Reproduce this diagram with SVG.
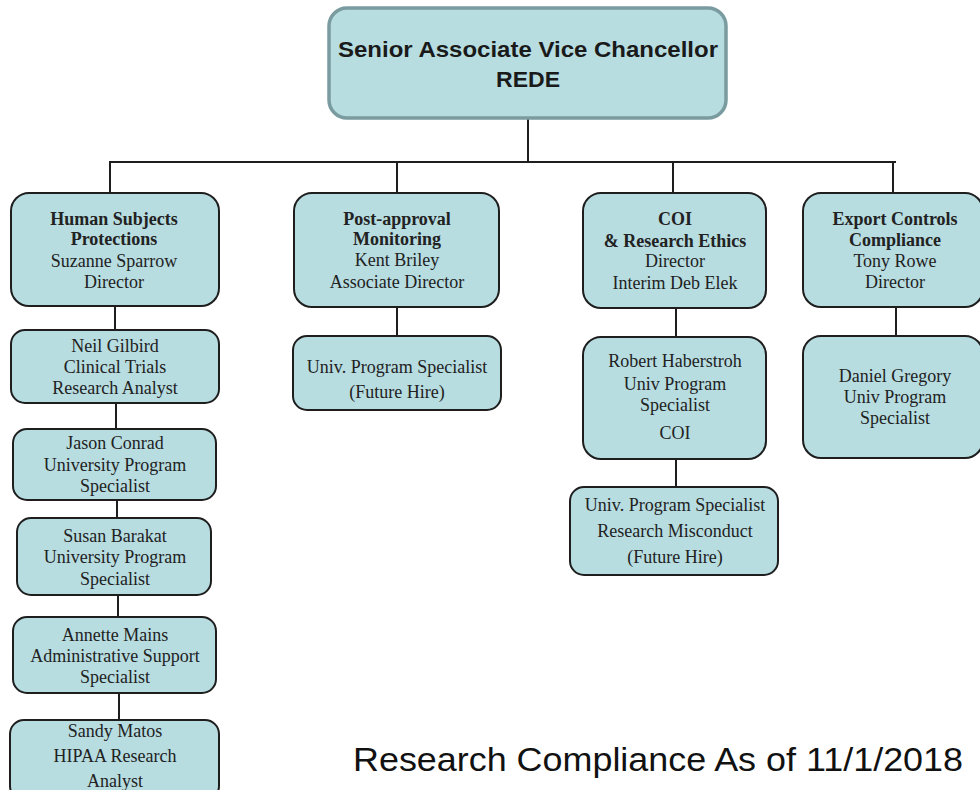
<svg xmlns="http://www.w3.org/2000/svg" width="980" height="790" viewBox="0 0 980 790">
<style>
.box{fill:#b7dde1;stroke:#1e1e1e;stroke-width:2}
.top{fill:#b7dde1;stroke:#7a9b9f;stroke-width:3.5}
.t{font-family:"Liberation Serif","Times New Roman",serif;font-size:18px;fill:#222;text-anchor:middle}
.b{font-weight:bold}
.h{font-family:"Liberation Sans",Arial,sans-serif;font-size:22px;font-weight:bold;fill:#1a1a1a;text-anchor:middle}
.f{font-family:"Liberation Sans",Arial,sans-serif;font-size:33px;fill:#111}
.c{stroke:#1e1e1e;stroke-width:2;fill:none}
</style>
<rect width="980" height="790" fill="#fff"/>
<g id="connectors">
<path class="c" d="M528 118V162M109 162H896M110 162V193M397 162V193M673 162V193M893 162V193"/>
<path class="c" d="M115 306V330M116 403V429M117 500V518M118 595V617M119 693V720"/>
<path class="c" d="M397 307V336M676 308V337M676 459V487M896 307V336"/>
</g>
<g id="n_top"><rect class="top" x="329" y="8" width="397" height="110" rx="18"/>
<text class="h" x="528" y="57" textLength="380" lengthAdjust="spacingAndGlyphs">Senior Associate Vice Chancellor</text>
<text class="h" x="528" y="87" textLength="64" lengthAdjust="spacingAndGlyphs">REDE</text></g>
<g id="n_hsp"><rect class="box" x="11" y="193" width="208" height="113" rx="18"/>
<text class="t b" x="114" y="225">Human Subjects</text>
<text class="t b" x="114" y="245">Protections</text>
<text class="t" x="114" y="267">Suzanne Sparrow</text>
<text class="t" x="114" y="288">Director</text></g>
<g id="n_pam"><rect class="box" x="294" y="193" width="205" height="114" rx="18"/>
<text class="t b" x="397" y="225">Post-approval</text>
<text class="t b" x="397" y="245">Monitoring</text>
<text class="t" x="397" y="266">Kent Briley</text>
<text class="t" x="397" y="288">Associate Director</text></g>
<g id="n_pam2"><rect class="box" x="293" y="336" width="208" height="74" rx="14"/>
<text class="t" x="397" y="373">Univ. Program Specialist</text>
<text class="t" x="397" y="398">(Future Hire)</text></g>
<g id="n_coi"><rect class="box" x="583" y="193" width="183" height="115" rx="18"/>
<text class="t b" x="675" y="225">COI</text>
<text class="t b" x="675" y="247">&amp; Research Ethics</text>
<text class="t" x="675" y="267">Director</text>
<text class="t" x="675" y="289">Interim Deb Elek</text></g>
<g id="n_rob"><rect class="box" x="583" y="337" width="183" height="122" rx="18"/>
<text class="t" x="675" y="367">Robert Haberstroh</text>
<text class="t" x="675" y="390">Univ Program</text>
<text class="t" x="675" y="411">Specialist</text>
<text class="t" x="675" y="439">COI</text></g>
<g id="n_rm"><rect class="box" x="570" y="487" width="208" height="88" rx="14"/>
<text class="t" x="675" y="511">Univ. Program Specialist</text>
<text class="t" x="675" y="537">Research Misconduct</text>
<text class="t" x="675" y="563">(Future Hire)</text></g>
<g id="n_exp"><rect class="box" x="803" y="193" width="180" height="114" rx="18"/>
<text class="t b" x="895" y="225">Export Controls</text>
<text class="t b" x="895" y="246">Compliance</text>
<text class="t" x="895" y="267">Tony Rowe</text>
<text class="t" x="895" y="288">Director</text></g>
<g id="n_dan"><rect class="box" x="803" y="336" width="180" height="122" rx="18"/>
<text class="t" x="895" y="382">Daniel Gregory</text>
<text class="t" x="895" y="403">Univ Program</text>
<text class="t" x="895" y="424">Specialist</text></g>
<g id="n_neil"><rect class="box" x="11" y="330" width="208" height="73" rx="14"/>
<text class="t" x="115" y="352">Neil Gilbird</text>
<text class="t" x="115" y="373">Clinical Trials</text>
<text class="t" x="115" y="394">Research Analyst</text></g>
<g id="n_jason"><rect class="box" x="13" y="429" width="203" height="71" rx="14"/>
<text class="t" x="115" y="449">Jason Conrad</text>
<text class="t" x="115" y="471">University Program</text>
<text class="t" x="115" y="492">Specialist</text></g>
<g id="n_susan"><rect class="box" x="17" y="518" width="194" height="77" rx="14"/>
<text class="t" x="115" y="542">Susan Barakat</text>
<text class="t" x="115" y="563">University Program</text>
<text class="t" x="115" y="585">Specialist</text></g>
<g id="n_annette"><rect class="box" x="13" y="617" width="203" height="76" rx="14"/>
<text class="t" x="115" y="641">Annette Mains</text>
<text class="t" x="115" y="662">Administrative Support</text>
<text class="t" x="115" y="683">Specialist</text></g>
<g id="n_sandy"><rect class="box" x="10" y="720" width="209" height="80" rx="14"/>
<text class="t" x="115" y="737">Sandy Matos</text>
<text class="t" x="115" y="762">HIPAA Research</text>
<text class="t" x="115" y="787">Analyst</text></g>
<text class="f" x="963" y="771" text-anchor="end" textLength="610" lengthAdjust="spacingAndGlyphs">Research Compliance As of 11/1/2018</text>
</svg>
